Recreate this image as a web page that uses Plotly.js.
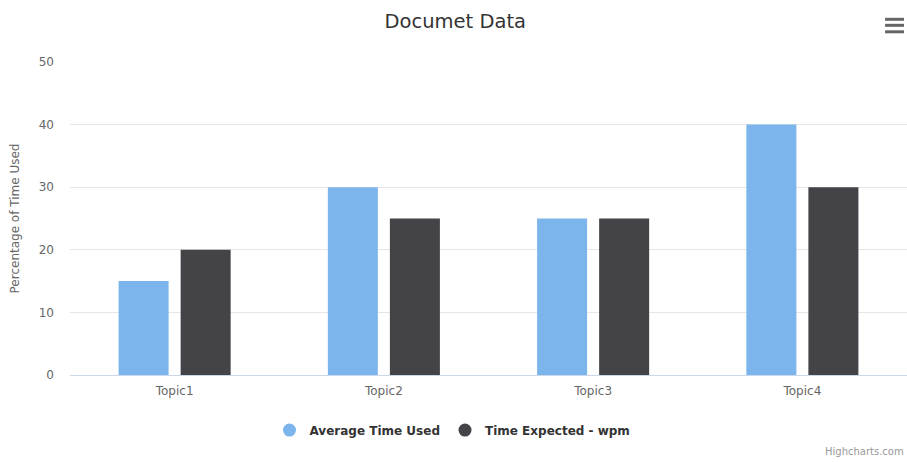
<!DOCTYPE html>
<html>
<head>
<meta charset="utf-8">
<script src="https://cdn.plot.ly/plotly-3.0.1.min.js"></script>
<style>
  html, body { margin: 0; padding: 0; background: #ffffff; }
  #chart { width: 907px; height: 462px; }
</style>
</head>
<body>
<div id="chart"></div>
<script>
// Topics and their timing figures
const topics = ["Topic1", "Topic2", "Topic3", "Topic4"];
const averageTimeUsed = [15, 30, 25, 40];
const timeExpectedWpm = [20, 25, 25, 30];
const seriesNames = ["Average Time Used", "Time Expected - wpm"];
const seriesColors = ["#7cb5ec", "#434348"];

const FONT = "'DejaVu Sans', Verdana, sans-serif";

const barTraces = [averageTimeUsed, timeExpectedWpm].map((vals, i) => ({
  type: "bar",
  x: topics,
  y: vals,
  name: seriesNames[i],
  legendgroup: "s" + i,
  showlegend: false,
  marker: { color: seriesColors[i], line: { width: 0 } },
  hovertemplate: "%{x}<br>" + seriesNames[i] + ": <b>%{y}</b><extra></extra>"
}));

// Round legend symbols, one per series
const legendTraces = seriesNames.map((name, i) => ({
  type: "scatter",
  mode: "markers",
  x: [null],
  y: [null],
  name: name,
  legendgroup: "s" + i,
  marker: { color: seriesColors[i], size: 13, symbol: "circle" },
  hoverinfo: "skip"
}));

// Hamburger menu icon (three bars) in the top-right corner
const menuLines = [1.1364, 1.1172, 1.0965].map(y => ({
  type: "line", xref: "paper", yref: "paper",
  x0: 0.9738, x1: 0.9964, y0: y, y1: y,
  line: { color: "#666666", width: 3 }
}));

const layout = {
  width: 907,
  height: 462,
  autosize: false,
  paper_bgcolor: "#ffffff",
  plot_bgcolor: "#ffffff",
  margin: { l: 70, r: 0, t: 62, b: 87, autoexpand: false },
  font: { family: FONT, color: "#666666", size: 11 },
  title: {
    text: "Documet Data",
    font: { family: FONT, size: 19.5, color: "#333333" },
    x: 0.502, xref: "container", xanchor: "center",
    y: 0.955, yref: "container", yanchor: "middle"
  },
  barmode: "group",
  bargap: 0.407,
  bargroupgap: 0.194,
  xaxis: {
    type: "category",
    showline: true,
    linecolor: "#ccd6eb",
    linewidth: 1,
    showgrid: false,
    ticks: "",
    tickfont: { size: 12, color: "#666666" },
    ticklabelstandoff: 5,
    automargin: false,
    fixedrange: true
  },
  yaxis: {
    range: [0, 50],
    dtick: 10,
    tick0: 0,
    showgrid: true,
    gridcolor: "#e6e6e6",
    gridwidth: 1,
    zeroline: false,
    showline: false,
    ticks: "",
    tickfont: { size: 12, color: "#666666" },
    ticklabelstandoff: 15,
    automargin: false,
    title: {
      text: "Percentage of Time Used",
      font: { size: 12, color: "#666666" },
      standoff: 16
    },
    fixedrange: true
  },
  showlegend: true,
  legend: {
    orientation: "h",
    x: 0.457, xanchor: "center",
    y: -0.176, yanchor: "middle",
    font: { family: FONT, size: 12, color: "#333333", weight: "bold" },
    bgcolor: "rgba(0,0,0,0)"
  },
  shapes: menuLines,
  annotations: [{
    text: "Highcharts.com",
    xref: "paper", yref: "paper",
    x: 0.999, y: -0.245,
    xanchor: "right", yanchor: "middle",
    showarrow: false,
    font: { family: FONT, size: 10, color: "#999999" }
  }]
};

Plotly.newPlot("chart", barTraces.concat(legendTraces), layout, { displayModeBar: false, responsive: false });
</script>
</body>
</html>
